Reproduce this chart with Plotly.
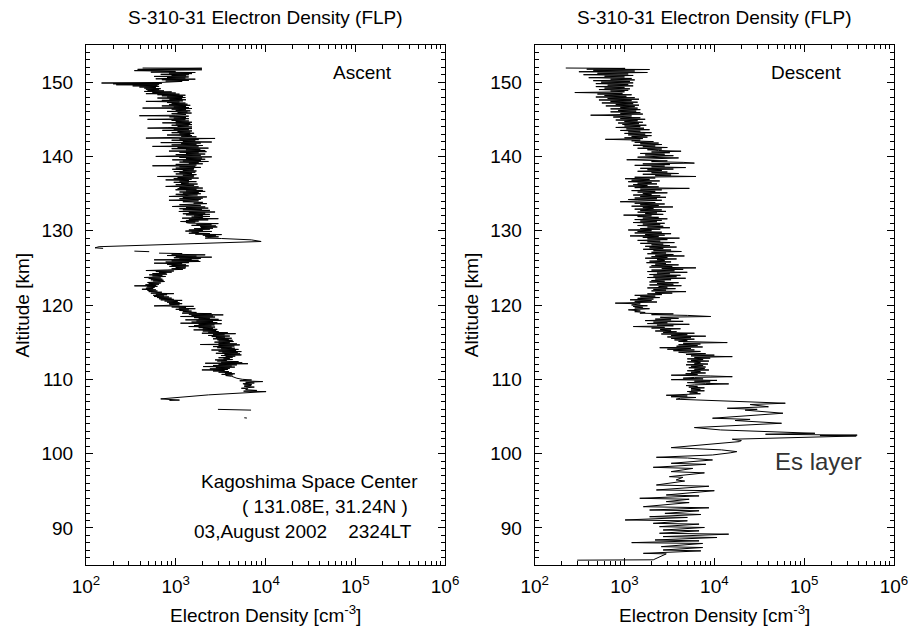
import plotly.graph_objects as go

# ---------------- data ----------------
# Ascent profile: altitude [km] and electron density [cm^-3]; None = data gap
asc_alt = [
    151.90, 151.87, 151.72, 151.67, 151.55, 151.45, 151.35, 151.30, 151.22, 151.15,
    151.05, 151.00, 150.90, 150.85, 150.77, 150.70, 150.62, 150.55, 150.45, 150.40,
    150.33, 150.25, 150.15, 150.10, 149.95, 149.88, 149.85, 149.78, 149.72, 149.65,
    149.58, 149.50, 149.43, 149.35, 149.28, 149.20, 149.12, 149.05, 148.98, 148.90,
    148.82, 148.75, 148.68, 148.60, 148.53, 148.45, 148.38, 148.31, 148.24, 148.16,
    148.08, 148.00, 147.93, 147.86, 147.78, 147.70, 147.63, 147.55, 147.48, 147.41,
    147.33, 147.25, 147.18, 147.10, 147.03, 146.96, 146.88, 146.80, 146.73, 146.65,
    146.58, 146.51, 146.45, 146.37, 146.29, 146.20, 146.13, 146.06, 145.98, 145.90,
    145.84, 145.75, 145.65, 145.55, 145.48, 145.42, 145.33, 145.25, 145.16, 145.08,
    144.99, 144.94, 144.85, 144.77, 144.68, 144.60, 144.52, 144.45, 144.36, 144.28,
    144.20, 144.12, 144.04, 143.96, 143.88, 143.81, 143.75, 143.67, 143.59, 143.51,
    143.43, 143.35, 143.27, 143.19, 143.12, 143.04, 142.96, 142.88, 142.80, 142.72,
    142.63, 142.55, 142.47, 142.42, 142.34, 142.26, 142.18, 142.10, 142.02, 141.94,
    141.86, 141.80, 141.72, 141.64, 141.55, 141.47, 141.40, 141.35, 141.28, 141.20,
    141.12, 141.04, 140.96, 140.88, 140.80, 140.72, 140.64, 140.56, 140.48, 140.40,
    140.32, 140.24, 140.16, 140.08, 140.00, 139.94, 139.86, 139.78, 139.70, 139.62,
    139.54, 139.46, 139.38, 139.32, 139.24, 139.16, 139.08, 139.01, 138.93, 138.85,
    138.74, 138.68, 138.60, 138.52, 138.43, 138.35, 138.27, 138.20, 138.12, 138.04,
    137.96, 137.88, 137.80, 137.72, 137.64, 137.55, 137.47, 137.38, 137.30, 137.24,
    137.16, 137.08, 137.00, 136.92, 136.84, 136.76, 136.68, 136.60, 136.52, 136.44,
    136.36, 136.28, 136.20, 136.12, 136.04, 135.96, 135.90, 135.82, 135.74, 135.66,
    135.58, 135.51, 135.43, 135.35, 135.29, 135.21, 135.13, 135.06, 134.98, 134.90,
    134.82, 134.73, 134.61, 134.55, 134.47, 134.39, 134.31, 134.23, 134.16, 134.10,
    134.02, 133.90, 133.82, 133.71, 133.65, 133.50, 133.42, 133.26, 133.20, 133.12,
    133.04, 132.96, 132.88, 132.82, 132.74, 132.66, 132.59, 132.52, 132.44, 132.36,
    132.28, 132.20, 132.14, 132.06, 131.98, 131.92, 131.84, 131.76, 131.69, 131.62,
    131.54, 131.46, 131.38, 131.30, 131.24, 131.17, 131.10, 131.02, 130.96, 130.88,
    130.80, 130.72, 130.64, 130.57, 130.50, 130.42, 130.34, 130.26, 130.21, 130.10,
    130.02, 129.95, 129.90, 129.82, 129.74, 129.66, 129.60, 129.54, 129.48, 129.40,
    129.32, 129.25, 129.18, 129.10, 129.00, 128.95, 128.77, 128.55, 127.85, 127.70,
    127.62, None, 127.25, 127.18, None, 126.98, 126.92, 126.84, 126.75, 126.66,
    126.58, 126.50, 126.44, 126.36, 126.28, 126.20, 126.14, 126.08, 126.02, 125.94,
    125.86, 125.78, 125.70, 125.63, 125.56, 125.48, 125.40, 125.32, 125.27, 125.20,
    125.12, 125.04, 124.96, 124.88, 124.80, 124.72, 124.64, 124.58, 124.50, 124.42,
    124.35, 124.28, 124.22, 124.16, 124.06, 124.00, 123.92, 123.84, 123.76, 123.70,
    123.64, 123.56, 123.48, 123.39, 123.33, 123.25, 123.16, 123.08, 123.03, 122.96,
    122.88, 122.80, 122.72, 122.64, 122.58, 122.52, 122.44, 122.36, 122.26, 122.20,
    122.12, 122.04, 121.95, 121.88, 121.80, 121.72, 121.65, 121.59, 121.53, 121.45,
    121.38, 121.30, 121.22, 121.14, 121.08, 121.00, 120.92, 120.84, 120.76, 120.69,
    120.62, 120.54, 120.46, 120.38, 120.30, 120.24, 120.18, 120.10, 120.02, 119.95,
    119.88, 119.82, 119.74, 119.66, 119.57, 119.50, 119.42, 119.34, 119.26, 119.18,
    119.10, 119.00, 118.90, 118.84, 118.76, 118.67, 118.60, 118.52, 118.45, 118.38,
    118.30, 118.22, 118.14, 118.07, 118.00, 117.93, 117.85, 117.78, 117.70, 117.62,
    117.55, 117.48, 117.40, 117.32, 117.24, 117.17, 117.10, 117.03, 116.95, 116.87,
    116.79, 116.72, 116.65, 116.58, 116.50, 116.42, 116.34, 116.27, 116.20, 116.14,
    116.06, 115.98, 115.90, 115.82, 115.75, 115.68, 115.60, 115.52, 115.45, 115.39,
    115.32, 115.25, 115.16, 115.08, 115.00, 114.92, 114.84, 114.76, 114.68, 114.63,
    114.56, 114.48, 114.40, 114.32, 114.25, 114.18, 114.10, 114.02, 113.94, 113.86,
    113.78, 113.73, 113.66, 113.58, 113.50, 113.42, 113.35, 113.28, 113.20, 113.12,
    113.04, 112.97, 112.90, 112.82, 112.74, 112.66, 112.61, 112.54, 112.46, 112.38,
    112.30, 112.22, 112.16, 112.10, 112.02, 111.94, 111.86, 111.78, 111.71, 111.64,
    111.56, 111.48, 111.40, 111.32, 111.26, 111.20, 111.12, 111.04, 110.96, 110.88,
    110.81, 110.74, 110.66, 110.59, 110.50, 110.40, 110.14, 110.00, 109.90, 109.80,
    109.69, 109.60, 109.50, 109.40, 109.30, 109.24, 109.16, 109.05, 108.95, 108.85,
    108.79, 108.72, 108.60, 108.50, 108.40, 108.34, 108.25, 107.90, 107.36, 107.30,
    107.25, 107.20, 107.15, None, 105.95, 105.85, None, 104.82, 104.78,
]
asc_ne = [
    427, 1955, 376, 1955, 346, 995, 528, 1651, 840, 1517,
    680, 1400, 900, 1300, 574, 1394, 800, 1281, 599, 1651,
    700, 1400, 772, 1178, 650, 149, 700, 200, 652, 217,
    625, 331, 652, 393, 599, 446, 680, 465, 652, 485,
    740, 446, 900, 550, 1000, 465, 1100, 625, 1281, 700,
    1200, 800, 1281, 625, 1178, 850, 1300, 700, 1200, 465,
    1100, 800, 1281, 900, 1350, 840, 1450, 700, 1300, 950,
    1400, 427, 1517, 900, 1300, 1000, 1450, 800, 1350, 1050,
    1500, 900, 1300, 1000, 393, 1394, 850, 1300, 950, 1400,
    485, 1281, 900, 1400, 1000, 1517, 709, 1450, 1000, 1517,
    900, 1394, 1050, 1517, 800, 485, 1517, 950, 1400, 709,
    1517, 1050, 1450, 900, 1600, 1100, 1450, 800, 1517, 1150,
    1700, 1000, 465, 2741, 1100, 1800, 900, 1651, 1200, 2517,
    680, 1900, 1150, 1700, 900, 2000, 1200, 550, 1796, 1050,
    2313, 900, 1875, 1300, 2128, 840, 2200, 1100, 1800, 1300,
    2128, 1000, 1900, 1200, 599, 2517, 1100, 1955, 1300, 2128,
    914, 1900, 1200, 2313, 1100, 1800, 1400, 2000, 1000, 1700,
    550, 1651, 1100, 1900, 1000, 1600, 914, 1582, 1200, 1700,
    950, 1651, 1100, 1517, 1000, 1700, 1200, 1600, 625, 1582,
    1050, 1800, 950, 1500, 772, 1400, 1100, 1700, 950, 1394,
    1150, 1750, 1000, 1600, 1200, 772, 1796, 1100, 2000, 1050,
    1700, 995, 2000, 1300, 2128, 1100, 1800, 1200, 1900, 1000,
    1750, 1300, 840, 2220, 1200, 2000, 1100, 1900, 1300, 840,
    1796, 1200, 2000, 1582, 2220, 1100, 1900, 914, 2128, 1300,
    2300, 1100, 1955, 1200, 2400, 1300, 1082, 2741, 1400, 2128,
    1200, 2400, 1300, 2000, 1600, 2400, 1500, 2000, 1178, 2981,
    1400, 2300, 1300, 1800, 1130, 1651, 1300, 1394, 2981, 1700,
    2500, 1500, 2800, 1875, 2900, 1900, 2600, 1600, 2400, 1400,
    2000, 1281, 2517, 1500, 1800, 1400, 2400, 1651, 3244, 2000,
    2800, 2128, 3000, 2400, 2128, 3244, 6934, 8933, 140, 126,
    155, None, 346, 506, None, 652, 1178, 900, 2128, 800,
    1700, 1000, 2517, 953, 1900, 1100, 1500, 574, 1796, 900,
    1875, 772, 1400, 574, 1178, 800, 1300, 900, 1394, 850,
    1300, 1000, 1281, 900, 1200, 800, 465, 953, 600, 900,
    650, 772, 550, 800, 506, 709, 550, 772, 600, 446,
    680, 500, 709, 528, 730, 560, 750, 520, 485, 680,
    500, 650, 460, 600, 346, 625, 480, 580, 465, 560,
    420, 600, 485, 625, 500, 700, 540, 528, 953, 600,
    800, 560, 740, 574, 840, 620, 900, 650, 950, 680,
    1178, 750, 1050, 800, 1100, 840, 1178, 850, 1100, 800,
    574, 1582, 900, 1300, 1082, 1651, 1000, 1400, 1100, 1500,
    1200, 1700, 1178, 2500, 1400, 3381, 1500, 2600, 1130, 2741,
    1600, 2400, 1800, 3000, 1281, 3244, 1700, 2600, 1500, 2900,
    1130, 3244, 1800, 2700, 1600, 2500, 1394, 2741, 1800, 2600,
    2000, 2900, 1582, 2817, 2000, 3000, 2300, 3800, 1955, 4650,
    2600, 3500, 2300, 4000, 2517, 3532, 2800, 4200, 2600, 3900,
    2900, 4300, 3000, 4400, 2700, 4000, 3000, 4800, 1875, 5164,
    3000, 4500, 2600, 4200, 2900, 4550, 3200, 5000, 2500, 4700,
    3000, 5383, 3300, 4900, 2800, 5200, 3500, 5383, 3200, 4600,
    3600, 4300, 3000, 4000, 3400, 4300, 2741, 3700, 2900, 5000,
    3200, 5500, 2128, 6368, 3000, 4800, 2600, 4200, 2020, 4550,
    2800, 4000, 2400, 3800, 1955, 3500, 2600, 3900, 3000, 4200,
    3532, 4550, 3244, 4300, 3600, 4200, 4800, 5500, 7000, 5164,
    9311, 6000, 7500, 5600, 7000, 5800, 6934, 5800, 7500, 6000,
    5383, 6368, 6000, 8000, 5700, 10140, 7000, 2313, 680, 900,
    760, 1100, 850, None, 2950, 6900, None, 5800, 6200,
]

# Descent profile
desc_alt = [
    151.90, 151.85, 151.75, 151.70, 151.60, 151.50, 151.40, 151.30, 151.20, 151.10,
    151.00, 150.90, 150.80, 150.70, 150.60, 150.50, 150.40, 150.30, 150.20, 150.10,
    150.00, 149.90, 149.80, 149.70, 149.60, 149.50, 149.40, 149.30, 149.20, 149.10,
    149.00, 148.90, 148.80, 148.70, 148.60, 148.50, 148.40, 148.30, 148.20, 148.10,
    148.00, 147.90, 147.80, 147.70, 147.60, 147.50, 147.40, 147.30, 147.20, 147.10,
    147.00, 146.90, 146.80, 146.70, 146.60, 146.50, 146.40, 146.30, 146.20, 146.10,
    146.00, 145.90, 145.80, 145.70, 145.55, 145.45, 145.30, 145.20, 145.10, 145.00,
    144.90, 144.80, 144.70, 144.60, 144.50, 144.40, 144.30, 144.20, 144.10, 144.00,
    143.90, 143.80, 143.70, 143.60, 143.50, 143.40, 143.30, 143.20, 143.10, 143.00,
    142.90, 142.80, 142.70, 142.60, 142.50, 142.40, 142.30, 142.20, 142.10, 142.00,
    141.90, 141.80, 141.70, 141.60, 141.50, 141.40, 141.30, 141.20, 141.10, 141.00,
    140.90, 140.80, 140.70, 140.60, 140.50, 140.40, 140.30, 140.20, 140.10, 140.00,
    139.90, 139.80, 139.70, 139.55, 139.40, 139.30, 139.20, 139.10, 139.00, 138.90,
    138.80, 138.70, 138.60, 138.50, 138.40, 138.30, 138.20, 138.10, 138.00, 137.90,
    137.80, 137.70, 137.60, 137.50, 137.40, 137.30, 137.20, 137.10, 137.00, 136.90,
    136.80, 136.70, 136.60, 136.50, 136.40, 136.30, 136.20, 136.10, 136.00, 135.90,
    135.80, 135.70, 135.60, 135.50, 135.40, 135.30, 135.20, 135.10, 135.00, 134.90,
    134.80, 134.70, 134.60, 134.50, 134.40, 134.30, 134.20, 134.10, 134.00, 133.90,
    133.80, 133.70, 133.60, 133.50, 133.40, 133.30, 133.20, 133.10, 133.00, 132.90,
    132.80, 132.70, 132.60, 132.50, 132.40, 132.30, 132.20, 132.10, 132.00, 131.90,
    131.80, 131.70, 131.60, 131.50, 131.40, 131.30, 131.20, 131.10, 131.00, 130.90,
    130.80, 130.70, 130.60, 130.50, 130.40, 130.30, 130.20, 130.10, 130.00, 129.90,
    129.80, 129.70, 129.60, 129.50, 129.40, 129.30, 129.20, 129.10, 129.00, 128.90,
    128.80, 128.70, 128.60, 128.50, 128.40, 128.30, 128.20, 128.10, 128.00, 127.90,
    127.80, 127.70, 127.60, 127.50, 127.40, 127.30, 127.20, 127.10, 127.00, 126.90,
    126.80, 126.70, 126.60, 126.50, 126.40, 126.30, 126.20, 126.10, 126.00, 125.90,
    125.80, 125.70, 125.60, 125.50, 125.40, 125.30, 125.20, 125.10, 125.00, 124.90,
    124.80, 124.70, 124.60, 124.50, 124.40, 124.30, 124.20, 124.10, 124.00, 123.90,
    123.80, 123.70, 123.60, 123.50, 123.40, 123.30, 123.20, 123.10, 123.00, 122.90,
    122.80, 122.70, 122.60, 122.50, 122.40, 122.30, 122.20, 122.10, 122.00, 121.90,
    121.80, 121.70, 121.60, 121.50, 121.40, 121.30, 121.20, 121.10, 121.00, 120.90,
    120.80, 120.70, 120.60, 120.50, 120.40, 120.25, 120.15, 120.00, 119.90, 119.80,
    119.70, 119.60, 119.50, 119.35, 119.20, 119.10, 119.00, 118.90, 118.80, 118.70,
    118.60, 118.45, 118.35, 118.20, 118.10, 118.00, 117.90, 117.80, 117.70, 117.60,
    117.50, 117.40, 117.30, 117.20, 117.10, 117.00, 116.90, 116.80, 116.70, 116.60,
    116.50, 116.40, 116.30, 116.20, 116.10, 116.00, 115.90, 115.80, 115.70, 115.60,
    115.50, 115.40, 115.30, 115.20, 115.10, 115.00, 114.94, 114.85, 114.75, 114.65,
    114.55, 114.45, 114.35, 114.25, 114.15, 114.05, 113.95, 113.85, 113.75, 113.65,
    113.55, 113.45, 113.35, 113.25, 113.15, 113.05, 112.95, 112.85, 112.75, 112.65,
    112.55, 112.45, 112.35, 112.25, 112.15, 112.05, 111.95, 111.85, 111.75, 111.65,
    111.55, 111.45, 111.35, 111.25, 111.15, 111.05, 110.95, 110.85, 110.75, 110.65,
    110.55, 110.45, 110.35, 110.25, 110.15, 110.05, 109.95, 109.85, 109.75, 109.65,
    109.55, 109.45, 109.38, 109.25, 109.15, 109.05, 108.95, 108.85, 108.75, 108.65,
    108.55, 108.45, 108.35, 108.25, 108.15, 108.05, 107.95, 107.85, 107.75, 107.65,
    107.55, 107.45, 107.32, 106.78, 106.60, 106.30, 106.10, 105.95, 105.85, 105.43,
    104.76, 104.60, 104.45, 104.30, 104.08, 103.50, 103.18, 102.73, 102.66, 102.60,
    102.48, 102.42, 102.37, 102.25, 101.93, 101.75, 101.61, 100.80, 100.50, 100.26,
    100.10, 99.81, 99.50, 99.40, 99.14, 98.69, 98.55, 98.15, 98.00, 97.57,
    97.40, 96.89, 96.80, 96.45, 96.30, 95.77, 95.60, 95.10, 95.00, 94.43,
    94.30, 93.98, 93.85, 93.53, 93.40, 92.85, 92.70, 92.40, 92.30, 91.95,
    91.80, 91.50, 91.40, 91.06, 90.95, 90.61, 90.50, 90.16, 90.05, 89.71,
    89.60, 89.27, 89.15, 88.82, 88.70, 88.37, 88.25, 88.01, 87.90, 87.47,
    87.35, 87.02, 86.90, 86.57, 86.50, 85.70, 85.65,
]
desc_ne = [
    222, 1016, 380, 1900, 450, 1300, 311, 1800, 500, 1100,
    350, 1250, 600, 1000, 400, 1200, 700, 1300, 450, 1150,
    550, 1250, 480, 1100, 650, 1250, 480, 1000, 600, 1150,
    520, 1100, 700, 1000, 280, 950, 500, 1200, 600, 1050,
    480, 1300, 650, 1450, 520, 1200, 700, 1400, 560, 1250,
    800, 1450, 620, 1300, 900, 1400, 700, 1500, 850, 1350,
    700, 1500, 900, 1600, 420, 1200, 750, 1500, 900, 1700,
    800, 1400, 1000, 1600, 850, 1450, 950, 1750, 1000, 1500,
    800, 1650, 1050, 1900, 900, 1500, 1100, 2000, 1000, 1700,
    1100, 2000, 1200, 1800, 1000, 1600, 612, 1500, 1200, 2100,
    1300, 2400, 1500, 2600, 1250, 2200, 1600, 3000, 1400, 2600,
    1800, 2400, 4266, 2000, 3200, 1500, 2800, 1700, 3500, 2000,
    1400, 4000, 1800, 1059, 3000, 2000, 4500, 5998, 1600, 3200,
    1300, 2800, 2000, 4800, 1500, 3500, 1800, 2600, 1400, 3000,
    2000, 4000, 1600, 3300, 2200, 6240, 1300, 2200, 1016, 1900,
    1200, 2466, 1100, 2000, 1400, 2300, 1250, 1800, 1100, 2400,
    1300, 5272, 1500, 2600, 1200, 2200, 1400, 3000, 1600, 2000,
    1250, 2500, 1500, 2900, 1300, 2300, 1100, 2600, 1400, 895,
    2200, 1300, 2800, 1500, 2400, 1200, 3459, 1600, 2100, 1300,
    2600, 1500, 2900, 1400, 2300, 1700, 2700, 977, 2000, 1400,
    2400, 1600, 3000, 1300, 2600, 1500, 2300, 1250, 2800, 1600,
    2500, 1400, 2700, 1800, 3200, 1500, 2500, 1100, 2000, 1400,
    2600, 1300, 3300, 1700, 2800, 1153, 2400, 1600, 4093, 1800,
    3000, 1400, 2500, 1800, 3600, 1500, 2700, 2000, 3200, 1700,
    3800, 1900, 2700, 1615, 3300, 2100, 4300, 2000, 2900, 1800,
    3500, 2200, 4645, 2000, 3000, 1700, 3800, 2300, 2800, 1900,
    3300, 1758, 2900, 2200, 4000, 2000, 3400, 1900, 6240, 2600,
    4500, 2000, 3600, 1800, 5000, 2300, 3200, 1900, 4200, 2100,
    3800, 1800, 4800, 2200, 3300, 2000, 2800, 1900, 4000, 2300,
    3500, 1900, 4300, 2400, 3000, 1800, 3700, 2100, 2900, 2000,
    4842, 2200, 3400, 1800, 2600, 1300, 2200, 1500, 2466, 1400,
    2100, 1153, 2000, 1300, 2300, 789, 1500, 1200, 1800, 1250,
    1600, 1300, 1900, 1104, 1500, 1300, 1700, 1485, 3500, 2000,
    5000, 9120, 2500, 4000, 2200, 3300, 1700, 4500, 2100, 3000,
    1800, 5272, 2300, 3500, 1253, 2800, 2000, 4200, 2500, 3300,
    2200, 3800, 2700, 6000, 2570, 5000, 3300, 8035, 3000, 5500,
    3311, 6000, 3600, 5000, 4000, 9000, 13930, 4500, 7000, 4000,
    6500, 3800, 7413, 2466, 5500, 3000, 6000, 3500, 7000, 4000,
    5000, 8000, 4842, 10000, 5500, 15850, 6000, 9000, 5000, 7500,
    5500, 8710, 5000, 7000, 6000, 8500, 4842, 7500, 5500, 8000,
    5200, 7800, 6000, 8710, 5000, 7000, 5500, 8000, 4800, 6500,
    3311, 9000, 15850, 6000, 4500, 7500, 3311, 10715, 6000, 9000,
    5000, 8000, 14454, 6000, 4842, 6500, 5200, 7762, 5500, 7000,
    5500, 7762, 5000, 6500, 5300, 7000, 4800, 2917, 5000, 3300,
    6240, 4200, 3758, 61660, 25000, 40000, 13930, 30000, 22000, 58000,
    9550, 25000, 17000, 30000, 56000, 5998, 11750, 131800, 45000, 37150,
    389000, 150000, 380000, 160000, 15850, 20000, 19000, 3311, 12000, 17800,
    15000, 9550, 2265, 5012, 9550, 3311, 8035, 2089, 5754, 3311,
    7762, 3162, 4467, 3758, 4677, 2265, 8710, 2265, 10000, 2917,
    6761, 1479, 5248, 2917, 5248, 1622, 8710, 1905, 6761, 2818,
    7079, 1905, 5012, 1016, 5012, 2089, 6761, 2455, 7762, 2692,
    6761, 2455, 14454, 2692, 10715, 2188, 6761, 1202, 7413, 2570,
    7413, 2692, 7079, 1622, 2917, 2089, 298,
]

assert len(asc_alt) == len(asc_ne), (len(asc_alt), len(asc_ne))
assert len(desc_alt) == len(desc_ne), (len(desc_alt), len(desc_ne))

x_tick_vals = [1e2, 1e3, 1e4, 1e5, 1e6]
x_tick_text = ["10<sup>2</sup>", "10<sup>3</sup>", "10<sup>4</sup>",
               "10<sup>5</sup>", "10<sup>6</sup>"]
y_tick_vals = [90, 100, 110, 120, 130, 140, 150]

panel_title = "S-310-31 Electron Density (FLP)"
x_title = "Electron Density [cm<sup>-3</sup>]"
y_title = "Altitude [km]"

# ---------------- layout helpers ----------------
FONT = "Liberation Sans, Arial, Helvetica, sans-serif"
W, H = 920, 627
ML, MR, MT, MB = 86, 16, 45, 62
PW = W - ML - MR
PH = H - MT - MB


def px(x):
    return (x - ML) / PW


def py(y):
    return (H - MB - y) / PH


minor_x = [m * 10 ** e for e in range(2, 6) for m in range(2, 10)]

fig = go.Figure()
fig.add_trace(go.Scatter(x=asc_ne, y=asc_alt, mode="lines",
                         line=dict(color="black", width=1),
                         xaxis="x", yaxis="y", showlegend=False,
                         hoverinfo="skip", connectgaps=False))
fig.add_trace(go.Scatter(x=desc_ne, y=desc_alt, mode="lines",
                         line=dict(color="black", width=1),
                         xaxis="x2", yaxis="y2", showlegend=False,
                         hoverinfo="skip", connectgaps=False))

tickfont = dict(family=FONT, size=19, color="black")
common = dict(showline=True, linecolor="black", linewidth=1, mirror="allticks",
              ticks="inside", ticklen=7, tickwidth=1, tickcolor="black",
              showgrid=False, zeroline=False, tickfont=tickfont)

xaxis_common = dict(type="log", range=[2, 6], tickvals=x_tick_vals,
                    ticktext=x_tick_text, ticklabelstandoff=4,
                    minor=dict(ticks="inside", ticklen=4, tickwidth=1,
                               tickcolor="black", tickvals=minor_x,
                               showgrid=False), **common)
yaxis_common = dict(range=[85, 155], tickvals=y_tick_vals,
                    ticklabelstandoff=8,
                    minor=dict(ticks="inside", ticklen=4, tickwidth=1,
                               tickcolor="black", dtick=1, tick0=85,
                               showgrid=False), **common)

fig.update_layout(
    width=W, height=H,
    margin=dict(l=ML, r=MR, t=MT, b=MB, pad=0),
    paper_bgcolor="white", plot_bgcolor="white",
    font=dict(family=FONT, size=19, color="black"),
    xaxis=dict(domain=[0, px(449.5)], anchor="y", **xaxis_common),
    yaxis=dict(domain=[0, 1], anchor="x", **yaxis_common),
    xaxis2=dict(domain=[px(540.2), 1.0], anchor="y2", **xaxis_common),
    yaxis2=dict(domain=[0, 1], anchor="x2", **yaxis_common),
)

ann = []


def add_text(text, x, y, xanchor="center", size=19, color="black", angle=0):
    ann.append(dict(text=text, x=px(x), y=py(y), xref="paper", yref="paper",
                    xanchor=xanchor, yanchor="middle", showarrow=False,
                    textangle=angle,
                    font=dict(family=FONT, size=size, color=color)))


for cx, ylx in [(267.8, 21.7), (722.0, 476.0)]:
    add_text(panel_title, cx, 18)
    add_text(x_title, cx, 614)
    add_text(y_title, ylx, 305, angle=-90)

add_text("Ascent", 398, 72, xanchor="right")
add_text("Descent", 852, 72, xanchor="right")
add_text("Kagoshima Space Center", 200, 481, xanchor="left")
add_text("( 131.08E, 31.24N )", 242, 506, xanchor="left")
add_text("03,August 2002    2324LT", 193, 531, xanchor="left")
add_text("Es layer", 781.7, 461, xanchor="left", size=24, color="#333333")

fig.update_layout(annotations=ann)

fig.write_html("out.html")
